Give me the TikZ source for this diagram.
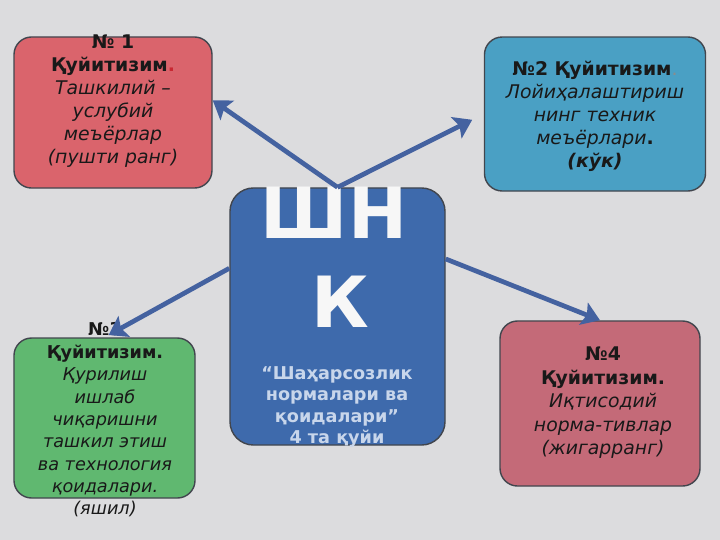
\documentclass[tikz,border=0pt]{standalone}
\usepackage{fontspec}
\setmainfont{DejaVu Sans}
\usetikzlibrary{arrows.meta}

\definecolor{bgcol}{RGB}{220,220,222}
\definecolor{edgecol}{RGB}{66,70,78}
\definecolor{arrcol}{RGB}{68,98,160}
\definecolor{pinkcol}{RGB}{218,100,108}
\definecolor{bluecol}{RGB}{74,160,196}
\definecolor{greencol}{RGB}{96,184,112}
\definecolor{rosecol}{RGB}{196,106,120}
\definecolor{ctrcol}{RGB}{62,106,172}
\definecolor{capcol}{RGB}{200,214,235}
\definecolor{dotred}{RGB}{200,40,50}

\begin{document}
\begin{tikzpicture}[x=0.85pt, y=-0.85pt, >={Stealth[length=15pt, width=20pt, inset=3pt]}]
    % Define node styles
    \tikzstyle{boxnode}=[rectangle, rounded corners=15pt, draw=edgecol, line width=1.2pt, inner sep=0pt]
    \tikzstyle{txtnode}=[align=center, inner sep=0pt, text=black!90, font=\fontsize{16}{19.5}\selectfont]
    \tikzstyle{bigletter}=[anchor=base, inner sep=0pt, text=white!94!gray, font=\fontsize{60}{60}\selectfont\bfseries]
    \tikzstyle{link}=[->, line width=4pt, draw=arrcol, fill=arrcol]

    % Background
    \fill[bgcol] (0,0) rectangle (720,540);

    % Boxes
    \node[boxnode, fill=pinkcol, minimum width=168.3pt, minimum height=128.4pt] (box1) at (113, 112.5) {};
    \node[boxnode, fill=bluecol, minimum width=187.9pt, minimum height=130.9pt] (box2) at (595, 114) {};
    \node[boxnode, fill=ctrcol, rounded corners=20pt, minimum width=182.8pt, minimum height=218.5pt] (ctr) at (337.5, 316.5) {};
    \node[boxnode, fill=greencol, minimum width=153.9pt, minimum height=136pt] (box3) at (104.5, 418) {};
    \node[boxnode, fill=rosecol, minimum width=170pt, minimum height=140.3pt] (box4) at (600, 403.5) {};

    % Centre letters
    \node[bigletter] (sh) at (334, 238) {ШН};
    \node[bigletter] (ka) at (340, 327) {К};
    \node[txtnode, text=capcol, font=\fontsize{15}{18}\selectfont\bfseries] (cap) at (337, 407) {“Шаҳарсозлик\\нормалари ва\\қоидалари”\\4 та қуйи};

    % Box texts
    \node[txtnode] (t1) at (113, 101) {\textbf{№ 1}\\\textbf{Қуйитизим}{\color{dotred}\textbf{.}}\\\textit{Ташкилий –}\\\textit{услубий}\\\textit{меъёрлар}\\\textit{(пушти ранг)}};
    \node[txtnode] (t2) at (595, 116) {\textbf{№2 Қуйитизим}{\color{black!45}.}\\\textit{Лойиҳалаштириш}\\\textit{нинг техник}\\\textit{меъёрлари}\textbf{.}\\\textbf{\textit{(кўк)}}};
    \node[txtnode, font=\fontsize{15}{19}\selectfont] (t3) at (105, 420) {\textbf{№3}\\\textbf{Қуйитизим.}\\\textit{Қурилиш}\\\textit{ишлаб}\\\textit{чиқаришни}\\\textit{ташкил этиш}\\\textit{ва технология}\\\textit{қоидалари.}\\\textit{(яшил)}};
    \node[txtnode, font=\fontsize{16}{20}\selectfont] (t4) at (603, 403) {\textbf{№4}\\\textbf{Қуйитизим.}\\\textit{Иқтисодий}\\\textit{норма-тивлар}\\\textit{(жигарранг)}};

    % Arrows from centre box
    \draw[link] (ctr.north) -- (box1.7);
    \draw[link, shorten >=11pt] (ctr.north) -- (box2.west);
    \draw[link, shorten >=4pt] (ctr.156) -- (box3.north);
    \draw[link] (ctr.28) -- (box4.north);

\end{tikzpicture}
\end{document}
